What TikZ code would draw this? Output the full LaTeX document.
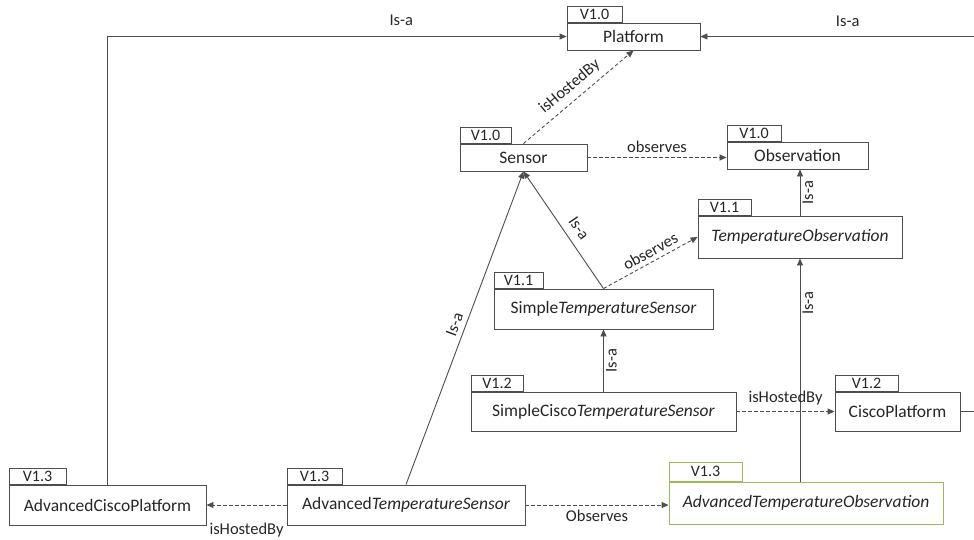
\documentclass[tikz,border=0pt]{standalone}
\usepackage{fontspec}
\setmainfont{Carlito}
\usetikzlibrary{positioning,arrows.meta}
\definecolor{ink}{HTML}{262626}
\definecolor{edge}{HTML}{4D4D4D}
\definecolor{newver}{HTML}{9BBB59}

\begin{document}
\begin{tikzpicture}[x=1pt,y=-1pt,
    every node/.style={font=\fontsize{17.5}{20}\selectfont,text=ink},
    cls/.style={draw=edge,line width=0.9pt,inner sep=0pt},
    tab/.style={draw=edge,line width=0.9pt,inner sep=0pt,minimum height=16pt,anchor=south west,font=\fontsize{16}{18}\selectfont},
    lbl/.style={font=\fontsize{16.5}{18}\selectfont,inner sep=2pt},
    isa/.style={draw=edge,line width=0.9pt,-{Triangle[length=7pt,width=6pt]}},
    rel/.style={isa,dashed,dash pattern=on 3.5pt off 2.5pt}]
    \useasboundingbox (0,0) rectangle (974,539);

    % V1.0 — base classes
    \node[cls,minimum width=133pt,minimum height=27pt] (plat) at (633.5,36.5) {Platform};
    \node[tab,minimum width=55pt] (platv) at (plat.north west) {V1.0};
    \node[cls,minimum width=127pt,minimum height=27pt] (sens) at (523.5,157.5) {Sensor};
    \node[tab,minimum width=51pt] (sensv) at (sens.north west) {V1.0};
    \node[cls,minimum width=141pt,minimum height=27pt] (obs) at (797.5,155.5) {Observation};
    \node[tab,minimum width=54pt] (obsv) at (obs.north west) {V1.0};

    % V1.1 — temperature
    \node[cls,minimum width=204pt,minimum height=42pt] (tobs) at (800,237) {\textit{TemperatureObservation}};
    \node[tab,minimum width=53pt] (tobsv) at (tobs.north west) {V1.1};
    \node[cls,minimum width=219pt,minimum height=40pt] (sts) at (603.5,309) {Simple\textit{TemperatureSensor}};
    \node[tab,minimum width=49pt] (stsv) at (sts.north west) {V1.1};

    % V1.2 — cisco
    \node[cls,minimum width=265pt,minimum height=39pt] (scts) at (603.5,411.5) {SimpleCisco\textit{TemperatureSensor}};
    \node[tab,minimum width=52pt] (sctsv) at (scts.north west) {V1.2};
    \node[cls,minimum width=125pt,minimum height=39pt] (cplat) at (897.5,411.5) {CiscoPlatform};
    \node[tab,minimum width=63pt] (cplatv) at (cplat.north west) {V1.2};

    % V1.3 — advanced
    \node[cls,minimum width=197pt,minimum height=40pt] (acplat) at (107.5,505) {AdvancedCiscoPlatform};
    \node[tab,minimum width=57pt] (acplatv) at (acplat.north west) {V1.3};
    \node[cls,minimum width=238pt,minimum height=40pt] (ats) at (406,505) {Advanced\textit{TemperatureSensor}};
    \node[tab,minimum width=55pt] (atsv) at (ats.north west) {V1.3};
    \node[cls,draw=newver,minimum width=274pt,minimum height=42pt] (atobs) at (806,503) {\textit{AdvancedTemperatureObservation}};
    \node[tab,draw=newver,minimum width=73pt,minimum height=19pt] (atobsv) at (atobs.north west) {V1.3};

    % Is-a links
    \draw[isa] (acplat.north) |- (plat.west) node[lbl,pos=0.82,above=8pt] (l1) {Is-a};
    \draw[isa] (cplat.east) -- ++(30,0) |- (plat.east) node[lbl,pos=0.746,above=7pt] (l2) {Is-a};
    \draw[isa] (tobs.north) -- (tobs.north |- obs.south) node[lbl,midway,below,sloped] (l5) {Is-a};
    \draw[isa] (sts.north) -- (sens.south) node[lbl,pos=0.45,above=6pt,sloped] (l6) {Is-a};
    \draw[isa] (scts.north) -- (sts.south) node[lbl,midway,below,sloped] (l8) {Is-a};
    \draw[isa] (ats.north) -- (sens.south) node[lbl,midway,above=3pt,sloped] (l9) {Is-a};
    \draw[isa] (tobs.south |- atobs.north) -- (tobs.south) node[lbl,pos=0.8,below,sloped] (l10) {Is-a};

    % object properties
    \draw[rel] (sens.north) -- (plat.south) node[lbl,midway,above=4pt,sloped] (l3) {isHostedBy};
    \draw[rel] (sens.east) -- (sens.east -| obs.west) node[lbl,midway,above=2pt] (l4) {observes};
    \draw[rel] (sts.north) -- (tobs.west) node[lbl,pos=0.55,above=2pt,sloped] (l7) {observes};
    \draw[rel] (scts.east) -- (cplat.west) node[lbl,midway,above=4pt] (l11) {isHostedBy};
    \draw[rel] (ats.west) -- (acplat.east) node[lbl,midway,below=16pt] (l12) {isHostedBy};
    \draw[rel] (ats.east) -- (ats.east -| atobs.west) node[lbl,midway,below=3pt] (l13) {Observes};
\end{tikzpicture}
\end{document}
